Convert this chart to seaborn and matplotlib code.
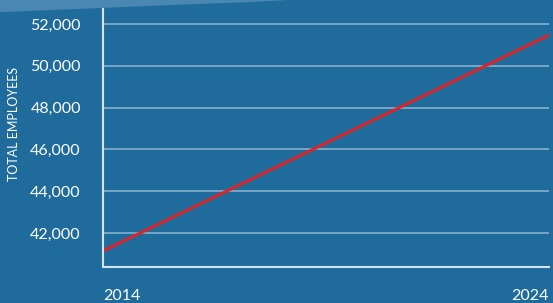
import matplotlib
matplotlib.use("Agg")
import matplotlib.pyplot as plt
import matplotlib.patches as mpatches
import pandas as pd
import seaborn as sns

years = [2014, 2024]
employees = [41140, 51470]
y_ticks = [42000, 44000, 46000, 48000, 50000, 52000]

BG = "#1f6c9c"
GRID = "#77a6c6"
SPINE = "#d6e4ee"
LINE = "#d9262b"

sns.set_style("white")
sns.set_style({"axes.facecolor": BG, "figure.facecolor": BG})
plt.rcParams["font.family"] = ["Lato", "DejaVu Sans"]

df = pd.DataFrame({"year": years, "employees": employees})

fig = plt.figure(figsize=(5.53, 3.03), dpi=100)
# lighter decorative band at the top left
fig.patches.append(mpatches.Polygon(
    [(0, 1), (0, 0.96), (0.15, 0.971), (0.3, 0.983), (0.45, 0.993), (0.52, 1)],
    closed=True, transform=fig.transFigure, facecolor="#4a88b3", edgecolor="none", zorder=0))

ax = fig.add_axes([0.1863, 0.1188, 0.8065, 0.8612])
ax.set_facecolor("none")

a = sns.lineplot(data=df, x="year", y="employees", color=LINE, linewidth=2.2, ax=ax)

ax.set_xlim(2014, 2024)
ax.set_ylim(40373, 52860)
ax.set_yticks(y_ticks)
ax.set_yticklabels([f"{v:,}" for v in y_ticks])
ax.set_xticks(years)
ax.set_xticklabels([str(y) for y in years])
for lbl, ha in zip(ax.get_xticklabels(), ["left", "right"]):
    lbl.set_horizontalalignment(ha)

ax.grid(axis="y", color=GRID, linewidth=1.4)
ax.set_axisbelow(True)
ax.tick_params(axis="y", length=5, width=1.4, color=GRID, pad=11, labelsize=11.5, labelcolor="white")
ax.tick_params(axis="x", length=0, pad=16, labelsize=11.5, labelcolor="white")
for lbl in ax.get_xticklabels():
    lbl.set_x(lbl.get_position()[0])

for side in ["top", "right"]:
    ax.spines[side].set_visible(False)
for side in ["left", "bottom"]:
    ax.spines[side].set_color(SPINE)
    ax.spines[side].set_linewidth(1.5)

ax.set_xlabel("")
ax.set_ylabel("TOTAL EMPLOYEES", color="white", fontsize=9)
ax.yaxis.set_label_coords(-0.186, 0.55)

plt.savefig("out.png", dpi=100, facecolor=BG)
